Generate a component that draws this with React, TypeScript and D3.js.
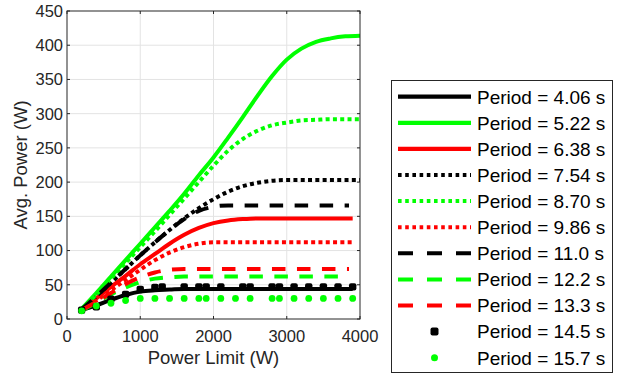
import React, { useEffect, useRef } from 'react';
import * as d3 from 'd3';

// Power limit grids (W)
const limitTo4000 = [200, 400, 600, 800, 1000, 1200, 1400, 1600, 1800, 2000, 2200, 2400, 2600, 2800, 3000, 3200, 3400, 3600, 3800, 4000];
const limitTo3900 = [200, 400, 600, 800, 1000, 1200, 1400, 1600, 1800, 2000, 2200, 2400, 2600, 2800, 3000, 3200, 3400, 3600, 3800, 3900];
const limitTo3850 = [200, 400, 600, 800, 1000, 1200, 1400, 1600, 1800, 2000, 2200, 2400, 2600, 2800, 3000, 3200, 3400, 3600, 3800, 3850];

// Avg. power (W) per period
const p406 = [13, 20, 28, 35, 40, 42, 43, 44, 44, 44, 44, 44, 44, 44, 44, 44, 44, 44, 44, 44];
const p522 = [15, 38, 62, 86, 110, 134, 158, 183, 210, 236, 265, 295, 326, 355, 379, 395, 405, 410, 413, 414];
const p638 = [14, 30, 47, 63, 80, 95, 110, 123, 133, 140, 144, 146, 147, 147, 147, 147, 147, 147, 147, 147];
const p754 = [14, 33, 53, 73, 93, 112, 130, 147, 162, 175, 186, 194, 199, 202, 203, 203, 203, 203, 203, 203];
const p870 = [14, 36, 59, 82, 105, 128, 152, 176, 200, 224, 246, 263, 275, 283, 287, 290, 291, 292, 292, 292];
const p986 = [13, 27, 42, 57, 72, 86, 97, 105, 110, 112, 112, 112, 112, 112, 112, 112, 112, 112, 112, 112];
const p110 = [14, 33, 53, 73, 93, 112, 130, 146, 158, 164, 166, 166, 166, 166, 166, 166, 166, 166, 166, 166];
const p122 = [12, 24, 36, 46, 54, 59, 61, 62, 62, 62, 62, 62, 62, 62, 62, 62, 62, 62, 62, 62];
const p133 = [13, 25, 38, 51, 61, 68, 72, 73, 73, 73, 73, 73, 73, 73, 73, 73, 73, 73, 73, 73];

// marker-only series
const limit145 = [200, 400, 600, 800, 1000, 1200, 1300, 1600, 1800, 1900, 2100, 2400, 2500, 2800, 2900, 3100, 3300, 3500, 3700, 3900];
const p145 = [13, 18, 29, 36, 43, 46, 47, 47, 47, 47, 47, 47, 47, 47, 47, 47, 47, 47, 47, 47];
const limit157 = [200, 400, 600, 800, 1000, 1200, 1400, 1600, 1800, 1900, 2100, 2300, 2500, 2800, 2900, 3100, 3300, 3500, 3700, 3900];
const p157 = [12, 19, 23, 27, 30, 30, 30, 30, 30, 30, 30, 30, 30, 30, 30, 30, 30, 30, 30, 30];

const periodLabels = ['4.06', '5.22', '6.38', '7.54', '8.70', '9.86', '11.0', '12.2', '13.3', '14.5', '15.7'];
const xTicks = [0, 1000, 2000, 3000, 4000];
const yTicks = [0, 50, 100, 150, 200, 250, 300, 350, 400, 450];

type Style = 'solid' | 'dotted' | 'dashed' | 'square' | 'dot';
interface Series { xs: number[]; ys: number[]; color: string; style: Style; }

const GREEN = '#00ff00';
const RED = '#ff0000';
const BLACK = '#000000';

const series: Series[] = [
  { xs: limitTo3900, ys: p406, color: BLACK, style: 'solid' },
  { xs: limitTo4000, ys: p522, color: GREEN, style: 'solid' },
  { xs: limitTo3900, ys: p638, color: RED, style: 'solid' },
  { xs: limitTo4000, ys: p754, color: BLACK, style: 'dotted' },
  { xs: limitTo4000, ys: p870, color: GREEN, style: 'dotted' },
  { xs: limitTo3900, ys: p986, color: RED, style: 'dotted' },
  { xs: limitTo3850, ys: p110, color: BLACK, style: 'dashed' },
  { xs: limitTo3850, ys: p122, color: GREEN, style: 'dashed' },
  { xs: limitTo3850, ys: p133, color: RED, style: 'dashed' },
  { xs: limit145, ys: p145, color: BLACK, style: 'square' },
  { xs: limit157, ys: p157, color: GREEN, style: 'dot' },
];

const FONT = '"Liberation Sans", Arial, Helvetica, sans-serif';
const AXIS = '#262626';

const App: React.FC = () => {
  const svgRef = useRef<SVGSVGElement>(null);

  useEffect(() => {
    if (!svgRef.current) return;
    const root = d3.select(svgRef.current);
    root.selectAll('*').remove();

    const plot = { left: 67, right: 360, top: 11, bottom: 319 };
    const x = d3.scaleLinear().domain([0, 4000]).range([plot.left, plot.right]);
    const y = d3.scaleLinear().domain([0, 450]).range([plot.bottom, plot.top]);

    root.append('rect').attr('width', 632).attr('height', 379).attr('fill', 'white');

    // grid
    const grid = root.append('g').attr('stroke', '#e3e3e3').attr('stroke-width', 1);
    xTicks.slice(1, -1).forEach(t => {
      grid.append('line').attr('x1', x(t)).attr('x2', x(t)).attr('y1', plot.top).attr('y2', plot.bottom);
    });
    yTicks.slice(1, -1).forEach(t => {
      grid.append('line').attr('x1', plot.left).attr('x2', plot.right).attr('y1', y(t)).attr('y2', y(t));
    });

    // curves
    const clip = root.append('defs').append('clipPath').attr('id', 'plotclip');
    clip.append('rect').attr('x', plot.left).attr('y', plot.top - 4)
      .attr('width', plot.right - plot.left + 4).attr('height', plot.bottom - plot.top + 4);
    const body = root.append('g').attr('clip-path', 'url(#plotclip)');

    const line = d3.line<[number, number]>()
      .x(d => x(d[0]))
      .y(d => y(d[1]))
      .curve(d3.curveMonotoneX);

    const dashOf = (s: Style) => (s === 'dotted' ? '4,3.3' : s === 'dashed' ? '13.5,11.5' : null);

    series.forEach(s => {
      const pts = s.xs.map((v, i) => [v, s.ys[i]] as [number, number]);
      if (s.style === 'square') {
        body.selectAll(null).data(pts).enter().append('rect')
          .attr('x', d => x(d[0]) - 3.7).attr('y', d => y(d[1]) - 3.7)
          .attr('width', 7.4).attr('height', 7.4).attr('rx', 2)
          .attr('fill', s.color);
      } else if (s.style === 'dot') {
        body.selectAll(null).data(pts).enter().append('circle')
          .attr('cx', d => x(d[0])).attr('cy', d => y(d[1]))
          .attr('r', 3.4).attr('fill', s.color);
      } else {
        body.append('path')
          .attr('d', line(pts) as string)
          .attr('fill', 'none')
          .attr('stroke', s.color)
          .attr('stroke-width', 4)
          .attr('stroke-dasharray', dashOf(s.style))
          .attr('stroke-linejoin', 'round');
      }
    });

    // axes box + ticks
    const ax = root.append('g').attr('stroke', AXIS).attr('stroke-width', 1).attr('fill', 'none');
    ax.append('rect').attr('x', plot.left).attr('y', plot.top)
      .attr('width', plot.right - plot.left).attr('height', plot.bottom - plot.top);
    xTicks.forEach(t => {
      ax.append('line').attr('x1', x(t)).attr('x2', x(t)).attr('y1', plot.bottom).attr('y2', plot.bottom - 3);
      ax.append('line').attr('x1', x(t)).attr('x2', x(t)).attr('y1', plot.top).attr('y2', plot.top + 3);
    });
    yTicks.forEach(t => {
      ax.append('line').attr('x1', plot.left).attr('x2', plot.left + 3).attr('y1', y(t)).attr('y2', y(t));
      ax.append('line').attr('x1', plot.right).attr('x2', plot.right - 3).attr('y1', y(t)).attr('y2', y(t));
    });

    const labels = root.append('g').attr('font-family', FONT).attr('fill', AXIS);
    xTicks.forEach(t => {
      labels.append('text').attr('x', x(t)).attr('y', 342)
        .attr('text-anchor', 'middle').attr('font-size', 16.5).text(t);
    });
    yTicks.forEach(t => {
      labels.append('text').attr('x', plot.left - 4).attr('y', y(t)).attr('dy', '0.36em')
        .attr('text-anchor', 'end').attr('font-size', 16.5).text(t);
    });
    labels.append('text').attr('x', (plot.left + plot.right) / 2).attr('y', 364)
      .attr('text-anchor', 'middle').attr('font-size', 18.5).text('Power Limit (W)');
    labels.append('text')
      .attr('transform', `translate(27,${(plot.top + plot.bottom) / 2}) rotate(-90)`)
      .attr('text-anchor', 'middle').attr('font-size', 18.5).text('Avg. Power (W)');

    // legend
    const lg = root.append('g');
    lg.append('rect').attr('x', 391.5).attr('y', 80.5).attr('width', 221).attr('height', 292)
      .attr('fill', 'white').attr('stroke', AXIS).attr('stroke-width', 1);
    const rowY = d3.scaleLinear().domain([0, 10]).range([96.7, 357.7]);
    series.forEach((s, i) => {
      const cy = rowY(i);
      if (s.style === 'square') {
        lg.append('rect').attr('x', 434.5 - 4).attr('y', cy - 4).attr('width', 8).attr('height', 8)
          .attr('rx', 2).attr('fill', s.color);
      } else if (s.style === 'dot') {
        lg.append('circle').attr('cx', 434.5).attr('cy', cy).attr('r', 3.5).attr('fill', s.color);
      } else {
        lg.append('line').attr('x1', 398).attr('x2', 471).attr('y1', cy).attr('y2', cy)
          .attr('stroke', s.color).attr('stroke-width', s.style === 'solid' ? 4.3 : 4)
          .attr('stroke-dasharray', s.style === 'dotted' ? '3.6,3.6' : s.style === 'dashed' ? '15,14' : null);
      }
      lg.append('text').attr('x', 477).attr('y', cy).attr('dy', '0.36em')
        .attr('font-family', FONT).attr('font-size', 19).attr('fill', '#000')
        .text(`Period = ${periodLabels[i]} s`);
    });
  }, []);

  return (
    <div style={{ position: 'absolute', left: 0, top: 0 }}>
      <svg ref={svgRef} width={632} height={379} style={{ display: 'block' }}></svg>
    </div>
  );
};

export default App;
